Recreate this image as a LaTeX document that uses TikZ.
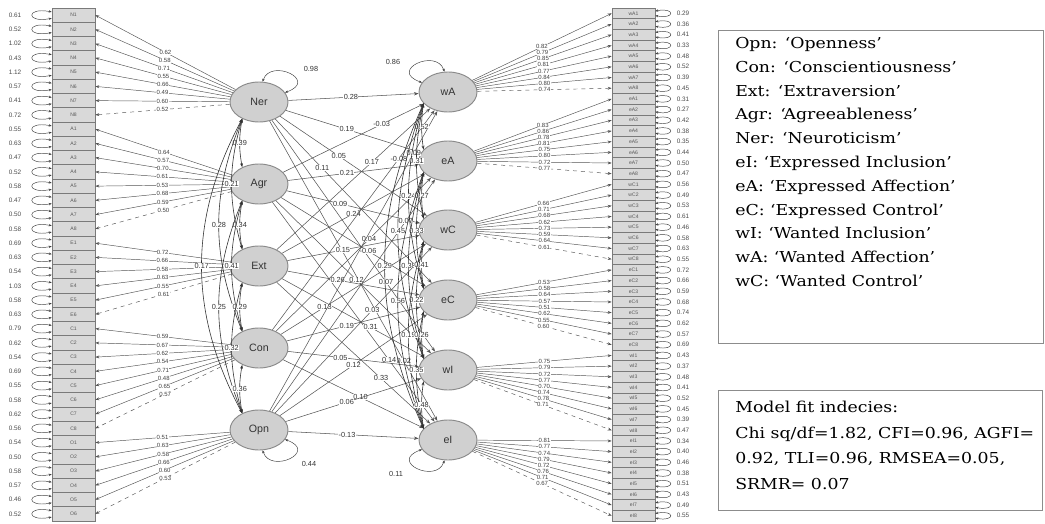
\documentclass[tikz,border=0pt]{standalone}
\usepackage{fontspec}
\setmainfont{Liberation Sans}
\newfontfamily\legfont[FakeStretch=1.15]{DejaVu Serif}
\usetikzlibrary{shapes.geometric,arrows.meta,calc}
\definecolor{boxfill}{HTML}{D9D9D9}
\definecolor{boxline}{HTML}{7A7A7A}
\definecolor{latfill}{HTML}{D0D0D0}
\definecolor{latline}{HTML}{8A8A8A}
\definecolor{pathc}{HTML}{555555}
\definecolor{legline}{HTML}{8C8C8C}
\tikzset{
  item/.style={draw=boxline, fill=boxfill, line width=0.5pt, minimum width=32.25pt, inner sep=0pt, font=\fontsize{3.8}{4}\selectfont, text=black!65},
  litem/.style={item, minimum height=10.69pt},
  ritem/.style={item, minimum height=8.02pt},
  latent/.style={ellipse, draw=latline, fill=latfill, line width=0.7pt, minimum width=43.5pt, minimum height=30pt, inner sep=0pt, font=\fontsize{8}{9}\selectfont, text=black!80},
  load/.style={draw=pathc, line width=0.35pt, -{Stealth[length=3pt,width=2.2pt]}},
  loadd/.style={load, dashed},
  llab/.style={font=\fontsize{4.5}{5}\selectfont, text=black!75, fill=white, inner sep=0.2pt},
  reg/.style={draw=pathc, line width=0.4pt, -{Stealth[length=3.5pt,width=2.5pt]}},
  cov/.style={draw=black!80, line width=0.45pt, {Stealth[length=3pt,width=2.2pt]}-{Stealth[length=3pt,width=2.2pt]}},
  res/.style={draw=black!75, line width=0.35pt, {Stealth[length=2.2pt,width=1.8pt]}-{Stealth[length=2.2pt,width=1.8pt]}},
  rlab/.style={font=\fontsize{4.8}{5}\selectfont, text=black!70, inner sep=0.3pt},
  slab/.style={font=\fontsize{5.5}{6}\selectfont, text=black!80, fill=white, inner sep=0.3pt},
  legbox/.style={draw=legline, line width=1.1pt, anchor=north west, inner sep=0pt},
  legtext/.style={font=\legfont\fontsize{11.3}{17.85}\selectfont, align=left, anchor=north west, inner sep=0pt, text=black},
}
\begin{document}
\begin{tikzpicture}[x=0.75pt,y=-0.75pt]
\useasboundingbox (0,0) rectangle (1045,524);
% ---------- indicator columns ----------
\foreach \n [count=\i from 0] in {N1,N2,N3,N4,N5,N6,N7,N8,A1,A2,A3,A4,A5,A6,A7,A8,E1,E2,E3,E4,E5,E6,C1,C2,C3,C4,C5,C6,C7,C8,O1,O2,O3,O4,O5,O6}
  \node[litem] (lrow\i) at (73.5,{8+14.25*(\i+0.5)}) {\n};
\foreach \n [count=\i from 0] in {wA1,wA2,wA3,wA4,wA5,wA6,wA7,wA8,eA1,eA2,eA3,eA4,eA5,eA6,eA7,eA8,wC1,wC2,wC3,wC4,wC5,wC6,wC7,wC8,eC1,eC2,eC3,eC4,eC5,eC6,eC7,eC8,wI1,wI2,wI3,wI4,wI5,wI6,wI7,wI8,eI1,eI2,eI3,eI4,eI5,eI6,eI7,eI8}
  \node[ritem] (rrow\i) at (633.5,{8+10.69*(\i+0.5)}) {\n};
% ---------- residuals ----------
\foreach \v [count=\i from 0] in {0.61,0.52,1.02,0.43,1.12,0.57,0.41,0.72,0.55,0.63,0.47,0.52,0.58,0.47,0.50,0.58,0.69,0.63,0.54,1.03,0.58,0.63,0.79,0.62,0.54,0.69,0.55,0.58,0.62,0.56,0.54,0.50,0.58,0.57,0.46,0.52}{
  \draw[res] ([yshift=2.4pt]lrow\i.west) .. controls +(-26,-5) and +(-26,5) .. ([yshift=-2.4pt]lrow\i.west);
  \node[rlab] (lres\i) at (15,{8+14.25*(\i+0.5)}) {\v};
}
\foreach \v [count=\i from 0] in {0.29,0.36,0.41,0.33,0.48,0.52,0.39,0.45,0.31,0.27,0.42,0.38,0.35,0.44,0.50,0.47,0.56,0.49,0.53,0.61,0.46,0.58,0.63,0.55,0.72,0.66,0.59,0.68,0.74,0.62,0.57,0.69,0.43,0.37,0.48,0.41,0.52,0.45,0.39,0.47,0.34,0.40,0.46,0.38,0.51,0.43,0.49,0.55}{
  \draw[res] ([yshift=1.7pt]rrow\i.east) .. controls +(20,-4) and +(20,4) .. ([yshift=-1.7pt]rrow\i.east);
  \node[rlab] (rres\i) at (683,{8+10.69*(\i+0.5)}) {\v};
}
% ---------- latents ----------
\node[latent] (Ner) at (259,102) {Ner};
\node[latent] (Agr) at (259,184) {Agr};
\node[latent] (Ext) at (259,266) {Ext};
\node[latent] (Con) at (259,348) {Con};
\node[latent] (Opn) at (259,430) {Opn};
\node[latent] (wA) at (448,92) {wA};
\node[latent] (eA) at (448,161) {eA};
\node[latent] (wC) at (448,230) {wC};
\node[latent] (eC) at (448,300) {eC};
\node[latent] (wI) at (448,370) {wI};
\node[latent] (eI) at (448,440) {eI};
% ---------- loadings (left) ----------
\foreach \r/\v/\s in {0/0.62/load,1/0.58/load,2/0.71/load,3/0.55/load,4/0.66/load,5/0.49/load,6/0.60/load,7/0.52/loadd}
  \draw[\s] (Ner) -- node[llab]{\v} (lrow\r.east);
\foreach \r/\v/\s in {8/0.64/load,9/0.57/load,10/0.70/load,11/0.61/load,12/0.53/load,13/0.68/load,14/0.59/load,15/0.50/loadd}
  \draw[\s] (Agr) -- node[llab]{\v} (lrow\r.east);
\foreach \r/\v/\s in {16/0.72/load,17/0.66/load,18/0.58/load,19/0.63/load,20/0.55/load,21/0.61/loadd}
  \draw[\s] (Ext) -- node[llab]{\v} (lrow\r.east);
\foreach \r/\v/\s in {22/0.59/load,23/0.67/load,24/0.62/load,25/0.54/load,26/0.71/load,27/0.48/load,28/0.65/load,29/0.57/loadd}
  \draw[\s] (Con) -- node[llab]{\v} (lrow\r.east);
\foreach \r/\v/\s in {30/0.51/load,31/0.63/load,32/0.58/load,33/0.66/load,34/0.60/load,35/0.53/loadd}
  \draw[\s] (Opn) -- node[llab]{\v} (lrow\r.east);
% ---------- loadings (right) ----------
\foreach \r/\v/\s in {0/0.82/load,1/0.79/load,2/0.85/load,3/0.81/load,4/0.77/load,5/0.84/load,6/0.80/load,7/0.74/loadd}
  \draw[\s] (wA) -- node[llab]{\v} (rrow\r.west);
\foreach \r/\v/\s in {8/0.83/load,9/0.86/load,10/0.78/load,11/0.81/load,12/0.75/load,13/0.80/load,14/0.72/load,15/0.77/loadd}
  \draw[\s] (eA) -- node[llab]{\v} (rrow\r.west);
\foreach \r/\v/\s in {16/0.66/load,17/0.71/load,18/0.68/load,19/0.62/load,20/0.73/load,21/0.59/load,22/0.64/load,23/0.61/loadd}
  \draw[\s] (wC) -- node[llab]{\v} (rrow\r.west);
\foreach \r/\v/\s in {24/0.53/load,25/0.58/load,26/0.64/load,27/0.57/load,28/0.51/load,29/0.62/load,30/0.55/load,31/0.60/loadd}
  \draw[\s] (eC) -- node[llab]{\v} (rrow\r.west);
\foreach \r/\v/\s in {32/0.75/load,33/0.79/load,34/0.72/load,35/0.77/load,36/0.70/load,37/0.74/load,38/0.78/load,39/0.71/loadd}
  \draw[\s] (wI) -- node[llab]{\v} (rrow\r.west);
\foreach \r/\v/\s in {40/0.81/load,41/0.77/load,42/0.74/load,43/0.79/load,44/0.72/load,45/0.76/load,46/0.71/load,47/0.67/loadd}
  \draw[\s] (eI) -- node[llab]{\v} (rrow\r.west);
% ---------- structural paths ----------
\foreach \a/\b/\v/\p in {Ner/wA/0.28/0.48,Ner/eA/0.19/0.45,Ner/wC/0.05/0.40,Ner/eC/0.11/0.30,Ner/wI/0.07/0.70,Ner/eI/0.02/0.80,
  Agr/wA/-0.03/0.70,Agr/eA/0.21/0.45,Agr/wC/0.09/0.40,Agr/eC/-0.06/0.60,Agr/wI/0.12/0.52,Agr/eI/0.14/0.72,
  Ext/wA/0.17/0.62,Ext/eA/0.24/0.50,Ext/wC/0.15/0.42,Ext/eC/0.26/0.38,Ext/wI/0.31/0.62,Ext/eI/0.33/0.68,
  Con/wA/-0.08/0.78,Con/eA/0.04/0.60,Con/wC/0.13/0.30,Con/eC/0.19/0.45,Con/wI/0.05/0.40,Con/eI/0.10/0.55,
  Opn/wA/0.09/0.86,Opn/eA/0.07/0.82,Opn/wC/0.03/0.62,Opn/eC/0.12/0.50,Opn/wI/0.06/0.45,Opn/eI/-0.13/0.45}
  \draw[reg] (\a) -- node[slab,pos=\p]{\v} (\b);
% ---------- covariances (left) ----------
\foreach \a/\b/\v/\bd in {Ner/Agr/0.39/10,Ner/Ext/0.21/16,Ner/Con/0.28/22,Ner/Opn/0.17/28,Agr/Ext/0.34/10,Agr/Con/0.41/16,Agr/Opn/0.25/22,Ext/Con/0.29/10,Ext/Opn/0.32/16,Con/Opn/0.36/10}
  \draw[cov] (\a.225) to[bend right=\bd] node[slab]{\v} (\b.135);
% ---------- covariances (right) ----------
\foreach \a/\b/\v/\bd in {wA/eA/0.52/8,wA/wC/0.31/12,wA/eC/0.24/16,wA/wI/0.45/20,wA/eI/0.29/24,eA/wC/0.27/8,eA/eC/0.33/12,eA/wI/0.38/16,eA/eI/0.56/20,wC/eC/0.41/8,wC/wI/0.22/12,wC/eI/0.19/16,eC/wI/0.26/8,eC/eI/0.35/12,wI/eI/0.48/8}
  \draw[cov] (\a.205) to[bend right=\bd] node[slab,pos=0.5]{\v} (\b.155);
% ---------- variances ----------
\draw[res] (Ner.80) .. controls +(8,-24) and +(34,-12) .. (Ner.20);
\node[slab,fill=none] (vNer) at (311,69) {0.98};
\draw[res] (Opn.-80) .. controls +(8,24) and +(34,12) .. (Opn.-20);
\node[slab,fill=none] (vOpn) at (309,464) {0.44};
\draw[res] (wA.100) .. controls +(-8,-24) and +(-34,-12) .. (wA.160);
\node[slab,fill=none] (vwA) at (393,62) {0.86};
\draw[res] (eI.-100) .. controls +(-8,24) and +(-34,12) .. (eI.-160);
\node[slab,fill=none] (veI) at (396,474) {0.11};
% ---------- legends ----------
\node[legbox, minimum width=243.75pt, minimum height=234.75pt] (leg1) at (718,30) {};
\node[legtext] (leg1t) at (735,37) {Opn: ‘Openness’\\Con: ‘Conscientiousness’\\Ext: ‘Extraversion’\\Agr: ‘Agreeableness’\\Ner: ‘Neuroticism’\\eI: ‘Expressed Inclusion’\\eA: ‘Expressed Affection’\\eC: ‘Expressed Control’\\wI: ‘Wanted Inclusion’\\wA: ‘Wanted Affection’\\wC: ‘Wanted Control’};
\node[legbox, minimum width=243pt, minimum height=90pt] (leg2) at (718,390) {};
\node[legtext, font=\legfont\fontsize{11.3}{19.1}\selectfont] (leg2t) at (735,401) {Model fit indecies:\\Chi sq/df=1.82, CFI=0.96, AGFI=\\0.92, TLI=0.96, RMSEA=0.05,\\SRMR= 0.07};
\end{tikzpicture}
\end{document}
